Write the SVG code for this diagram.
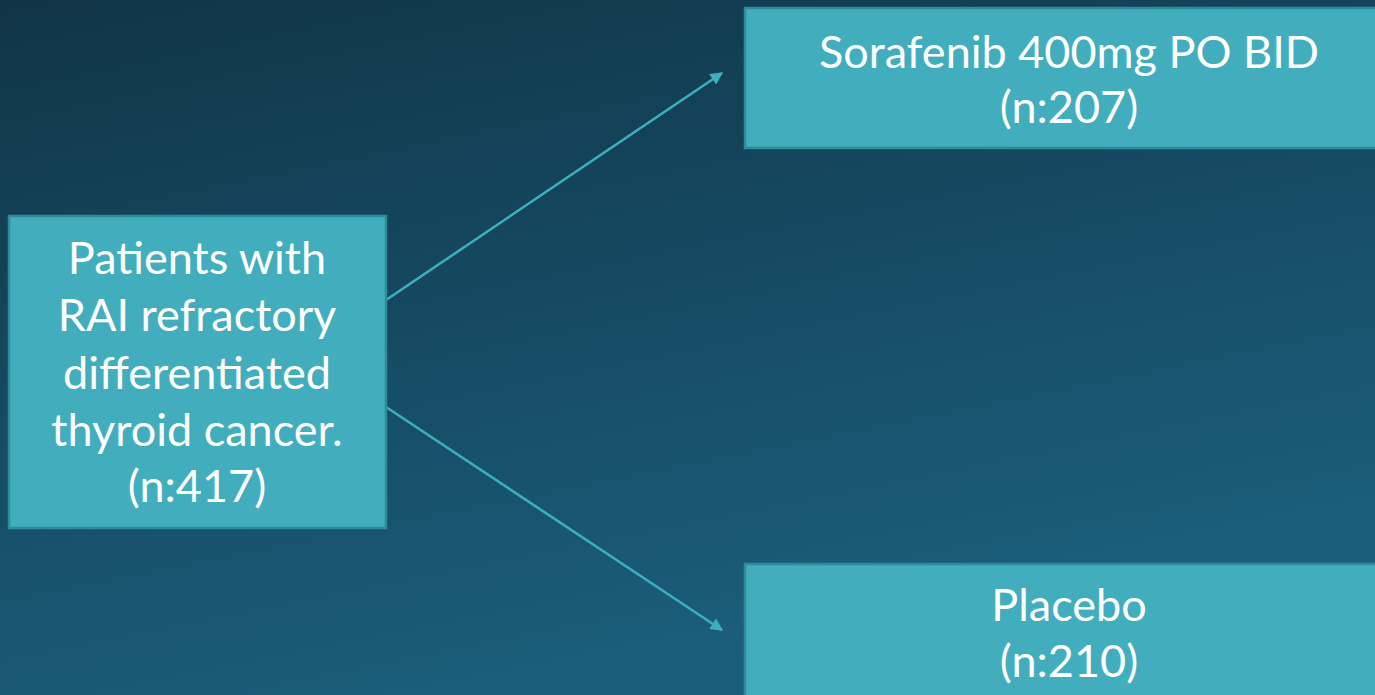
<svg xmlns="http://www.w3.org/2000/svg" width="1375" height="695" viewBox="0 0 1375 695">
<style>
.box{fill:#42aebd;stroke:#2e8b98;stroke-width:2.5}
.t{font-family:Lato,"Open Sans","Liberation Sans",sans-serif;font-size:45px;fill:#ffffff;text-anchor:middle}
.c{stroke:#3bb0be;stroke-width:2.5;fill:none}
</style>
<defs>
<linearGradient id="bg" x1="0" y1="0" x2="0.4" y2="1">
<stop offset="0" stop-color="#103547"/>
<stop offset="1" stop-color="#1b5e7c"/>
</linearGradient>
<marker id="ah" viewBox="0 0 10 10" refX="9" refY="5" markerWidth="6" markerHeight="5" orient="auto" markerUnits="strokeWidth">
<path d="M0,0 L10,5 L0,10 z" fill="#3bb0be"/>
</marker>
</defs>
<rect width="1375" height="695" fill="url(#bg)"/>
<g id="connectors">
<line class="c" x1="386" y1="300" x2="722" y2="73" marker-end="url(#ah)"/>
<line class="c" x1="386" y1="407" x2="722" y2="630" marker-end="url(#ah)"/>
</g>
<g id="patients">
<rect class="box" x="9" y="216" width="377" height="312"/>
<text class="t" x="197" y="274">Patients with</text>
<text class="t" x="197" y="331">RAI refractory</text>
<text class="t" x="197" y="389">differentiated</text>
<text class="t" x="197" y="446">thyroid cancer.</text>
<text class="t" x="197" y="502">(n:417)</text>
</g>
<g id="sorafenib">
<rect class="box" x="745" y="8" width="660" height="140"/>
<text class="t" x="1069" y="68">Sorafenib 400mg PO BID</text>
<text class="t" x="1069" y="123">(n:207)</text>
</g>
<g id="placebo">
<rect class="box" x="745" y="564" width="660" height="160"/>
<text class="t" x="1069" y="621">Placebo</text>
<text class="t" x="1069" y="677">(n:210)</text>
</g>
</svg>
